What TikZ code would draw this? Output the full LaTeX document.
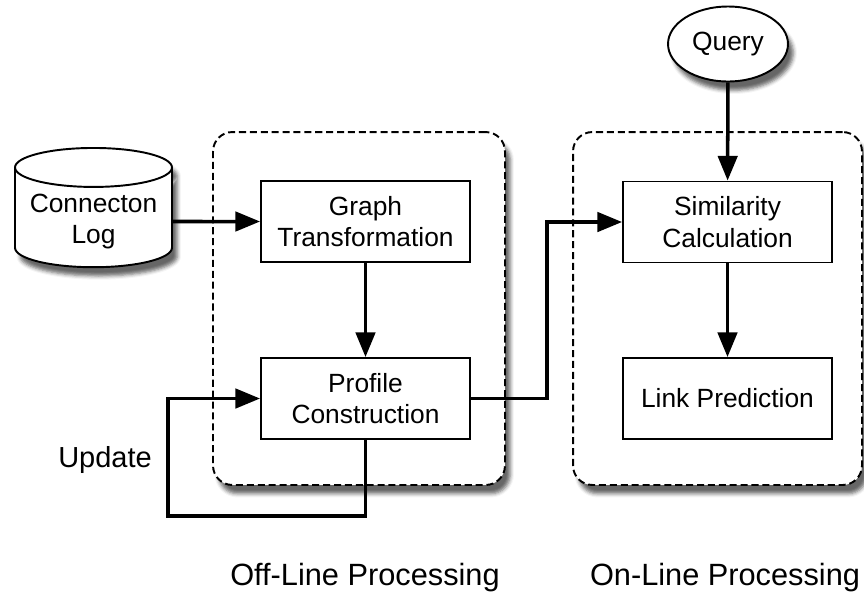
\documentclass[tikz,border=0pt]{standalone}
\usepackage{fontspec}
\setmainfont{Liberation Sans}
\usetikzlibrary{shapes.geometric, arrows.meta, calc, shadows.blur}
\tikzset{
  procbox/.style={draw, line width=1.1pt, fill=white, minimum width=4.18cm,
    minimum height=1.62cm, align=center, font=\fontsize{15}{18}\selectfont},
  groupbox/.style={draw, dash pattern=on 4pt off 2.2pt, line width=1.1pt,
    rounded corners=11pt, fill=white,
    blur shadow={shadow xshift=3pt, shadow yshift=-5pt, shadow opacity=60}},
  arr/.style={line width=2pt, -{Triangle[length=14pt,width=11pt]}},
  caption/.style={font=\fontsize{17.5}{21}\selectfont}
}

\begin{document}
\begin{tikzpicture}[x=0.02cm, y=-0.02cm]
    \useasboundingbox (0,0) rectangle (864,596);
    \node[groupbox, minimum width=5.84cm, minimum height=7.06cm] (offline) at (359,308.5) {};
    \node[groupbox, minimum width=5.78cm, minimum height=7.06cm] (online) at (717.5,308.5) {};
    \node[cylinder, shape border rotate=90, draw, line width=1.1pt, fill=white, aspect=0.28,
      minimum width=3.14cm, minimum height=1.94cm, align=center,
      font=\fontsize{15}{18}\selectfont,
      blur shadow={shadow xshift=3pt, shadow yshift=-5pt, shadow opacity=60}]
      (log) at (93.5,221.5) {Connecton\\Log};
    \node[ellipse, draw, line width=1.1pt, fill=white, minimum width=2.4cm, minimum height=1.5cm,
      font=\fontsize{15}{18}\selectfont,
      blur shadow={shadow xshift=3pt, shadow yshift=-5pt, shadow opacity=60}]
      (query) at (728,44) {Query};
    \node[procbox] (graph) at (365.5,221.5) {Graph\\Transformation};
    \node[procbox] (profile) at (365.5,398.5) {Profile\\Construction};
    \node[procbox] (simil) at (727.5,222) {Similarity\\Calculation};
    \node[procbox] (predict) at (727.5,398.5) {Link Prediction};
    \node[font=\fontsize{16.5}{20}\selectfont] (update) at (105,460) {Update};
    \node[caption] (offcap) at (365,578) {Off-Line Processing};
    \node[caption] (oncap) at (725,578) {On-Line Processing};
    \coordinate (jog) at (547,222);
    \coordinate (loop) at (168,516);
    \draw[arr] (log.east) -- (graph.west);
    \draw[arr] (graph) -- (profile);
    \draw[arr] (query) -- (simil);
    \draw[arr] (simil) -- (predict);
    \draw[arr] (profile.east) -| (jog) -- (simil.west);
    \draw[arr] (profile.south) |- (loop) |- (profile.west);
  \end{tikzpicture}
\end{document}
